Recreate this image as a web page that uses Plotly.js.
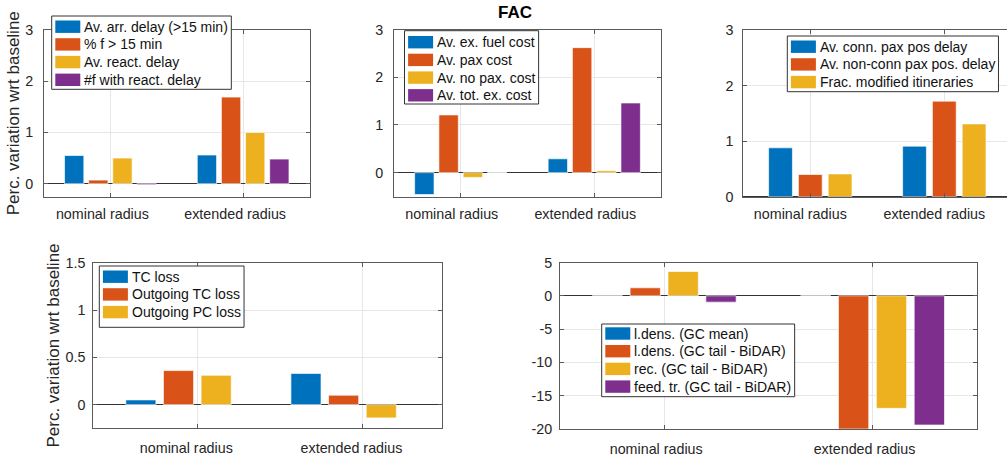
<!DOCTYPE html>
<html><head><meta charset="utf-8">
<script src="https://cdn.plot.ly/plotly-3.0.1.min.js"></script>
<style>html,body{margin:0;padding:0;background:#fff;overflow:hidden}#chart{width:1007px;height:460px}</style>
</head><body><div id="chart"></div>
<script>
// ---------------- data ----------------
const categories = ['nominal radius', 'extended radius'];

// Panel 1 – delays
const delayNames = ['Av. arr. delay (>15 min)', '% f > 15 min', 'Av. react. delay', '#f with react. delay'];
const avArrDelay    = [0.55, 0.56];
const pctFlights15  = [0.07, 1.69];
const avReactDelay  = [0.50, 1.00];
const nFlightsReact = [-0.02, 0.48];

// Panel 2 – costs (FAC)
const costNames = ['Av. ex. fuel cost', 'Av. pax cost', 'Av. no pax. cost', 'Av. tot. ex. cost'];
const avExFuelCost = [-0.46, 0.29];
const avPaxCost    = [1.21, 2.62];
const avNoPaxCost  = [-0.10, 0.04];
const avTotExCost  = [0.00, 1.46];

// Panel 3 – passengers
const paxNames = ['Av. conn. pax pos delay', 'Av. non-conn pax pos. delay', 'Frac. modified itineraries'];
const avConnPaxDelay    = [0.88, 0.91];
const avNonConnPaxDelay = [0.40, 1.72];
const fracModItin       = [0.41, 1.31];

// Panel 4 – connection losses
const lossNames = ['TC loss', 'Outgoing TC loss', 'Outgoing PC loss'];
const tcLoss    = [0.05, 0.33];
const outTcLoss = [0.36, 0.10];
const outPcLoss = [0.31, -0.14];

// Panel 5 – network metrics
const netNames = ['l.dens. (GC mean)', 'l.dens. (GC tail - BiDAR)', 'rec. (GC tail - BiDAR)', 'feed. tr. (GC tail - BiDAR)'];
const ldensMean  = [0, 0];
const ldensTail  = [1.2, -20];
const recTail    = [3.65, -16.9];
const feedTrTail = [-0.95, -19.4];

const yTitle = 'Perc. variation wrt baseline';
const figTitle = 'FAC';

// ---------------- styling / layout ----------------
const W = 1007, H = 460;
const px = v => v / W;
const py = v => 1 - v / H;
const COLORS = ['#0072BD', '#D95319', '#EDB120', '#7E2F8E'];
const FONT = 'Liberation Sans, Arial, Helvetica, sans-serif';
const INK = '#262626';
const AXC = '#5a5a5a';
const GRID = '#e6e6e6';
const TICK_FONT = 14.3;

const g4 = 4 / 5.5 / 4;   // MATLAB grouped bar stride, 4 bars
const g3 = 3 / 4.5 / 3;   // 3 bars

// legend geometry (MATLAB look)
const LEG_FONT = 14, LEG_ROW = 17.7, SW_X = 3.6, SW_W = 25, SW_H = 12.4, TXT_X = 31.5, PAD_R = 4.3;

const panels = [
  {names: delayNames, series: [avArrDelay, pctFlights15, avReactDelay, nFlightsReact],
   slots: 4, stride: g4, box: [44, 309.5, 30, 196.5], xr: [0.5, 2.5], yr: [-0.25, 3],
   tickvals: [0, 1, 2, 3], leg: [51.7, 16, 73.3, 10.7], ytitle: true, shift: -8, xstand: 4, ystand: 7, mirror: true},
  {names: costNames, series: [avExFuelCost, avPaxCost, avNoPaxCost, avTotExCost],
   slots: 4, stride: g4, box: [394, 661, 29.5, 196.5], xr: [0.5, 2.5], yr: [-0.5, 3],
   tickvals: [0, 1, 2, 3], leg: [404.5, 30.7, 73.3, 11.5], ytitle: false, shift: -9, xstand: 4, ystand: 7, mirror: true},
  {names: paxNames, series: [avConnPaxDelay, avNonConnPaxDelay, fracModItin],
   slots: 3, stride: g3, box: [743.3, 1007, 30, 196.7], xr: [0.5, 0.5 + (1007 - 743.3) / 134], yr: [0, 3],
   tickvals: [0, 1, 2, 3], leg: [787.3, 36, 55.7, 10.7], ytitle: false, shift: -10, xstand: 4, ystand: 6, mirror: false},
  {names: lossNames, series: [tcLoss, outTcLoss, outPcLoss],
   slots: 4, stride: 0.228, box: [93.3, 441.7, 262.7, 428.3], xr: [0.37, 2.48], yr: [-0.25, 1.5],
   tickvals: [0, 0.5, 1, 1.5], leg: [99.3, 266, 61.3, 10.7], ytitle: true, shift: -11, xstand: 7, ystand: 4, mirror: true},
  {names: netNames, series: [ldensMean, ldensTail, recTail, feedTrTail],
   slots: 4, stride: g4, box: [560, 976.7, 262.5, 429], xr: [0.5, 2.5], yr: [-20, 5],
   tickvals: [-20, -15, -10, -5, 0, 5], leg: [601.7, 324, 72.7, 9.5], ytitle: false, shift: -8, xstand: 7, ystand: 4, mirror: true}
];

const ctx = document.createElement('canvas').getContext('2d');
ctx.font = LEG_FONT + 'px "Liberation Sans", Arial, sans-serif';

const xPos = categories.map((_, j) => j + 1);
const traces = [];
const shapes = [];
const annotations = [];
const layout = {
  width: W, height: H,
  margin: {l: 0, r: 0, t: 0, b: 0, pad: 0},
  paper_bgcolor: '#fff', plot_bgcolor: '#fff',
  barmode: 'overlay', showlegend: false,
  font: {family: FONT, color: INK, size: 14},
  title: {text: figTitle, x: 515 / W, xanchor: 'center', y: py(12.5), yanchor: 'middle',
          font: {family: FONT, size: 17, weight: 'bold', color: '#000'}},
  shapes: shapes, annotations: annotations
};

panels.forEach((p, k) => {
  const sfx = k === 0 ? '' : String(k + 1);
  const w = 0.8 * p.stride;
  p.series.forEach((vals, i) => {
    traces.push({
      type: 'bar', name: p.names[i], x: xPos, y: vals,
      xaxis: 'x' + sfx, yaxis: 'y' + sfx, showlegend: false,
      width: w, offset: (i - p.slots / 2) * p.stride + (p.stride - w) / 2,
      marker: {color: COLORS[i], line: {color: 'rgba(255,255,255,0.65)', width: 1}},
      hoverinfo: 'x+y+name'
    });
  });
  const common = {
    showline: true, linecolor: AXC, linewidth: 1,
    ticks: 'inside', ticklen: 4, tickcolor: AXC, tickwidth: 1,
    showgrid: true, gridcolor: GRID, gridwidth: 1,
    tickfont: {family: FONT, size: TICK_FONT, color: INK},
    fixedrange: true
  };
  layout['xaxis' + sfx] = Object.assign({}, common, {
    domain: [px(p.box[0]), px(p.box[1])], range: p.xr, anchor: 'y' + sfx,
    tickmode: 'array', tickvals: xPos, ticktext: categories,
    mirror: 'ticks', zeroline: false, ticklabelshift: p.shift, ticklabelstandoff: p.xstand
  });
  layout['yaxis' + sfx] = Object.assign({}, common, {
    domain: [py(p.box[3]), py(p.box[2])], range: p.yr, anchor: 'x' + sfx,
    tickmode: 'array', tickvals: p.tickvals, ticktext: p.tickvals.map(String),
    mirror: p.mirror ? 'ticks' : false,
    zeroline: true, zerolinecolor: '#333', zerolinewidth: 1,
    ticklabelstandoff: p.ystand,
    title: p.ytitle ? {text: yTitle, font: {family: FONT, size: 17, color: INK}, standoff: 1} : {text: ''}
  });

  // MATLAB-style legend box
  const [lx, ly, lh, first] = p.leg;
  const tw = Math.max.apply(null, p.names.map(n => ctx.measureText(n).width));
  const bw = TXT_X + tw + PAD_R;
  shapes.push({type: 'rect', xref: 'paper', yref: 'paper', layer: 'above',
    x0: px(lx), x1: px(lx + bw), y0: py(ly + lh), y1: py(ly),
    fillcolor: '#ffffff', line: {color: '#333333', width: 1}});
  p.names.forEach((n, i) => {
    const cy = ly + first + i * LEG_ROW;
    shapes.push({type: 'rect', xref: 'paper', yref: 'paper', layer: 'above',
      x0: px(lx + SW_X), x1: px(lx + SW_X + SW_W), y0: py(cy + SW_H / 2), y1: py(cy - SW_H / 2),
      fillcolor: COLORS[i], line: {width: 0}});
    annotations.push({text: n, xref: 'paper', yref: 'paper', x: px(lx + TXT_X), y: py(cy),
      xanchor: 'left', yanchor: 'middle', showarrow: false, borderpad: 0,
      font: {family: FONT, size: LEG_FONT, color: '#111'}});
  });
});

Plotly.newPlot('chart', traces, layout, {displayModeBar: false, responsive: false});
</script>
</body></html>
